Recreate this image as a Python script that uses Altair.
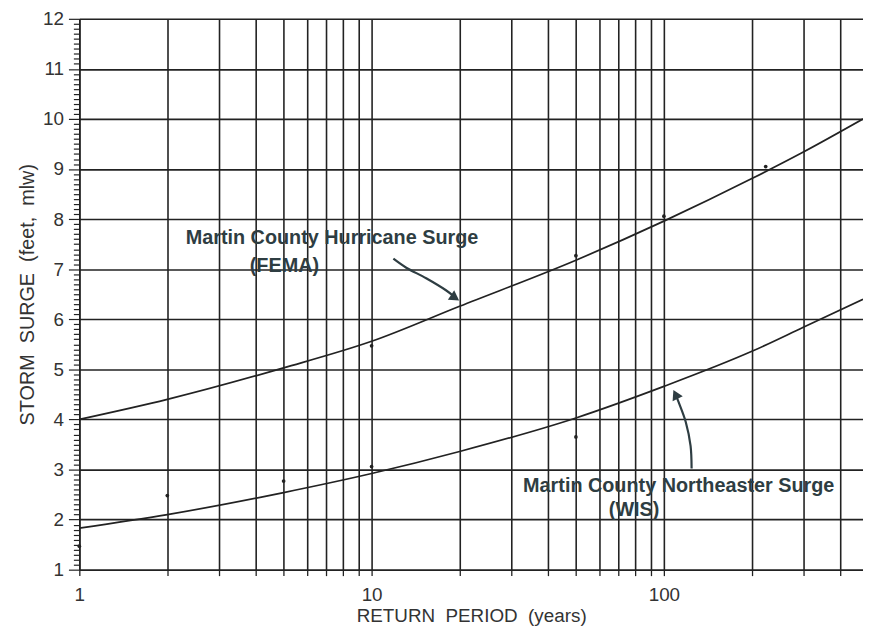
import altair as alt
import pandas as pd

# ---- data ----
years_curve = [1, 2, 5, 10, 20, 50, 100, 200, 300, 480]
hurricane_curve = [4.0, 4.40, 5.03, 5.56, 6.26, 7.18, 7.96, 8.81, 9.34, 10.0]
northeaster_curve = [1.83, 2.10, 2.54, 2.92, 3.36, 4.03, 4.66, 5.36, 5.84, 6.40]

hurricane_pts_x = [10, 50, 100, 223]
hurricane_pts_y = [5.47, 7.27, 8.06, 9.05]
northeaster_pts_x = [1, 2, 5, 10, 50]
northeaster_pts_y = [1.47, 2.48, 2.77, 3.06, 3.65]

x_grid = [1, 2, 3, 4, 5, 6, 7, 8, 9, 10, 20, 30, 40, 50, 60, 70, 80, 90, 100, 200, 300, 400]
x_labels = [1, 10, 100]
y_ticks = [round(1 + i / 10, 1) for i in range(111)]

# annotations (data coordinates)
arrow1_x = [11.87, 13.14, 15.37, 17.96, 19.3]
arrow1_y = [7.21, 7.03, 6.82, 6.58, 6.44]
arrow2_x = [124.4, 123.4, 118.8, 112.4, 109.6]
arrow2_y = [3.02, 3.47, 3.95, 4.34, 4.50]
heads_x = [19.3, 109.6]
heads_y = [6.43, 4.50]
heads_angle = [124, 334]
label_text = ["Martin County Hurricane Surge", "(FEMA)",
              "Martin County Northeaster Surge", "(WIS)"]
label_x = [7.32, 5.03, 112.4, 79.1]
label_y = [7.63, 7.07, 2.66, 2.19]

INK = "#222222"
TXT = "#333333"
ANN = "#2e3d42"
FONT = "Liberation Sans"

curves = pd.DataFrame({
    "years": years_curve * 2,
    "surge": hurricane_curve + northeaster_curve,
    "series": ["Hurricane"] * len(years_curve) + ["Northeaster"] * len(years_curve),
})
points = pd.DataFrame({
    "years": hurricane_pts_x + northeaster_pts_x,
    "surge": hurricane_pts_y + northeaster_pts_y,
})
arrows = pd.DataFrame({
    "years": arrow1_x + arrow2_x,
    "surge": arrow1_y + arrow2_y,
    "arrow": ["a1"] * len(arrow1_x) + ["a2"] * len(arrow2_x),
    "i": list(range(len(arrow1_x))) + list(range(len(arrow2_x))),
})
heads = pd.DataFrame({"years": heads_x, "surge": heads_y, "ang": heads_angle})
labels = pd.DataFrame({"years": label_x, "surge": label_y, "t": label_text})

xscale = alt.Scale(type="log", domain=[1, 480], nice=False)
yscale = alt.Scale(domain=[1, 12], nice=False, zero=False)

is_int = "abs(datum.value - round(datum.value)) < 0.01"

x_axis = alt.Axis(
    values=x_grid, tickCount=1000, grid=True, gridColor=INK, gridWidth=1.6,
    tickSize=6, tickColor=INK, tickWidth=1.3,
    domainColor=INK, domainWidth=1.6,
    labelExpr="(datum.value == 1 || datum.value == 10 || datum.value == 100) ? datum.value : ''",
    labelFlush=False, labelOverlap=False, labelPadding=10,
    labelFont=FONT, labelFontSize=19, labelColor=TXT,
    title="RETURN\u00a0 PERIOD\u00a0 (years)", titleFont=FONT, titleFontSize=19,
    titleFontWeight="normal", titleColor=TXT, titlePadding=2,
)
y_axis = alt.Axis(
    values=y_ticks, tickCount=1000, grid=True, gridColor=INK, gridWidth=1.6,
    gridOpacity={"condition": {"test": is_int, "value": 1}, "value": 0},
    tickSize={"condition": {"test": is_int, "value": 11}, "value": 6},
    tickColor=INK, tickWidth=1.2,
    domainColor=INK, domainWidth=1.6,
    labelExpr=f"{is_int} ? format(datum.value, 'd') : ''",
    labelOverlap=False, labelPadding=5, labelFlush=False,
    labelFont=FONT, labelFontSize=19, labelColor=TXT,
    title="STORM\u00a0 SURGE\u00a0 (feet,\u00a0 mlw)", titleFont=FONT, titleFontSize=20,
    titleFontWeight="normal", titleColor=TXT, titlePadding=5,
)

base_x = alt.X("years:Q", scale=xscale, axis=x_axis)
base_y = alt.Y("surge:Q", scale=yscale, axis=y_axis)

curve_layer = alt.Chart(curves).mark_line(
    color=INK, strokeWidth=1.7, interpolate="monotone"
).encode(x=base_x, y=base_y, detail="series:N")

point_layer = alt.Chart(points).mark_point(
    filled=True, color=INK, size=14, opacity=1
).encode(x="years:Q", y="surge:Q")

arrow_layer = alt.Chart(arrows).mark_line(
    color=ANN, strokeWidth=2.2, interpolate="catmull-rom"
).encode(x="years:Q", y="surge:Q", detail="arrow:N", order="i:Q")

head_layer = alt.Chart(heads).mark_point(
    shape="triangle-up", filled=True, color=ANN, size=130, opacity=1
).encode(x="years:Q", y="surge:Q", angle=alt.Angle("ang:Q", scale=None))

text_layer = alt.Chart(labels).mark_text(
    font=FONT, fontSize=20, fontWeight="bold", color=ANN, align="center", baseline="middle"
).encode(x="years:Q", y="surge:Q", text="t:N")

chart = alt.layer(curve_layer, point_layer, arrow_layer, head_layer, text_layer).properties(
    width=791, height=556,
    autosize=alt.AutoSizeParams(type="none"),
    padding={"left": 72, "top": 8, "right": 0, "bottom": 62},
).configure_view(stroke=None).configure(background="white")

chart.save("out.html", embed_options={"renderer": "svg", "actions": False})
